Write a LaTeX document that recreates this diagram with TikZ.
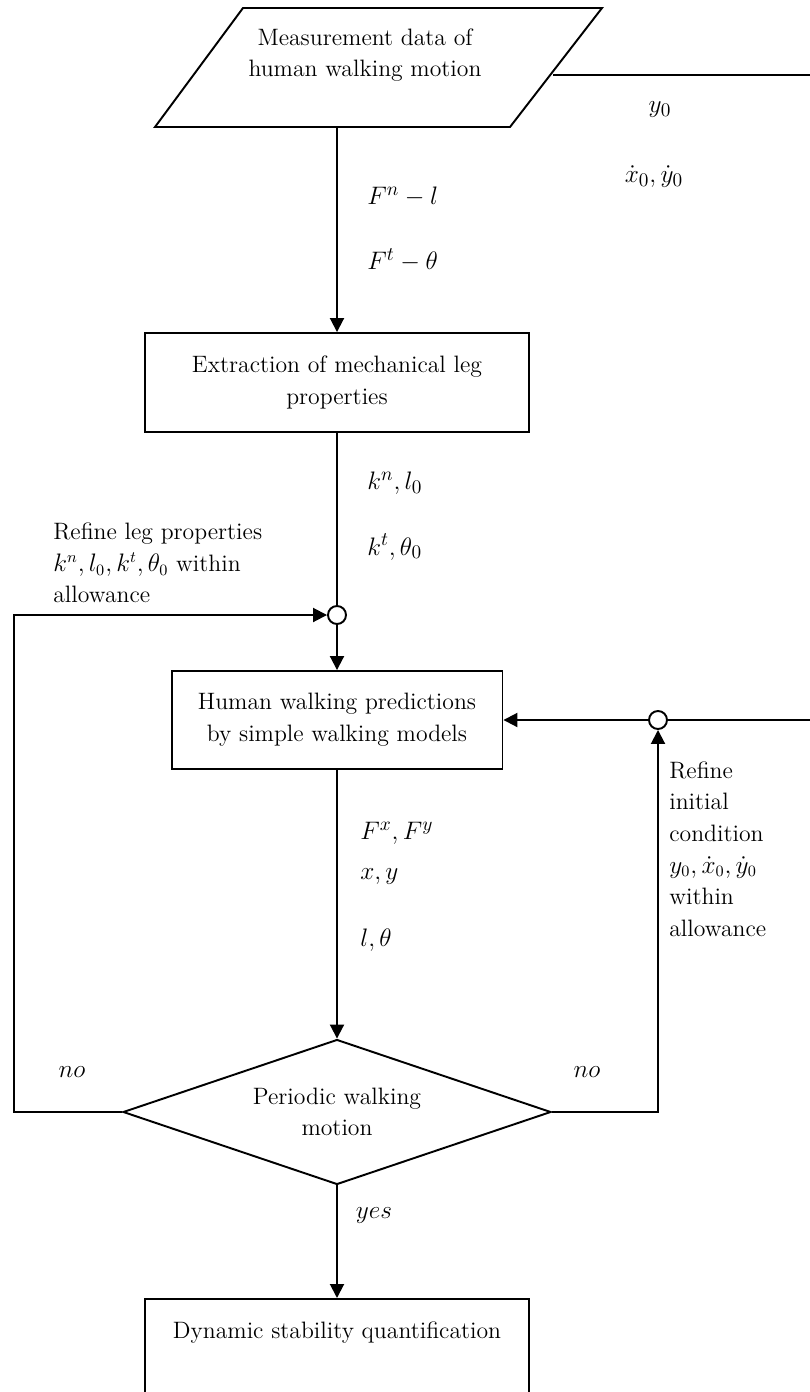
\documentclass[tikz,border=0pt]{standalone}
\usepackage{amsmath}
\usepackage{amssymb}
\usetikzlibrary{arrows.meta, shapes.geometric, positioning}

\tikzset{
  box/.style={draw, line width=1.1pt, align=center, inner sep=0pt},
  junction/.style={draw, circle, line width=1.1pt, fill=white, minimum size=0.36cm, inner sep=0pt},
  flow/.style={line width=1.1pt, -{Triangle[length=0.28cm, width=0.28cm]}},
  wire/.style={line width=1.1pt},
  lbl/.style={inner sep=0pt, anchor=west},
  sig/.style={inner sep=0pt, font=\fontsize{15.5}{18}\selectfont},
}

\begin{document}
\begin{tikzpicture}[x=0.02cm, y=-0.02cm, font=\fontsize{13.5}{18}\selectfont]
  \useasboundingbox (0,0) rectangle (810,1392);
  \clip (0,0) rectangle (810,1392);

  % input data
  \draw[wire] (243,8) -- (602,8) -- (510,127) -- (155,127) -- cycle;
  \node[align=center] (data) at (365,55) {Measurement data of\\human walking motion};
  \coordinate (dataout) at (337,127);
  \coordinate (dataright) at (553,75);
  \coordinate (edgetop) at (810,75);

  \node[box, minimum width=7.68cm, minimum height=1.98cm] (extract) at (337,382.5) {Extraction of mechanical leg\\properties};
  \node[junction] (jleft) at (337,615) {};
  \node[box, minimum width=6.62cm, minimum height=1.96cm] (predict) at (337,720) {Human walking predictions\\by simple walking models};
  \node[junction] (jright) at (658,720) {};
  \coordinate (edgemid) at (810,720);
  \node[diamond, draw, line width=1.1pt, aspect=2.95, minimum width=8.56cm, minimum height=2.9cm, inner sep=0pt, align=center] (periodic) at (337,1112) {Periodic walking\\motion};
  \coordinate (leftturn) at (14,1112);
  \coordinate (leftup) at (14,615);
  \coordinate (rightturn) at (658,1112);
  \node[box, minimum width=7.68cm, minimum height=3cm, anchor=north] (quant) at (337,1298) {};
  \node (quanttext) at (337,1333) {Dynamic stability quantification};

  % main flow
  \draw[flow] (dataout) -- (extract);
  \draw[wire] (dataright) -- (edgetop);
  \draw[wire] (extract) -- (jleft);
  \draw[flow] (jleft) -- (predict);
  \draw[flow] (predict) -- (periodic);
  \draw[flow] (periodic) -- (quant);

  % refinement loops
  \draw[flow] (periodic.west) -- (leftturn) -- (leftup) -- (jleft);
  \draw[flow] (periodic.east) -- (rightturn) -- (jright);
  \draw[wire] (edgemid) -- (jright);
  \draw[flow] (jright) -- (predict);

  % signals
  \node[sig, lbl] (fnl) at (367,197) {$F^n - l$};
  \node[sig, lbl] (ftt) at (367,260) {$F^t - \theta$};
  \node[sig] (yinit) at (660,110) {$y_0$};
  \node[sig] (vinit) at (654,177) {$\dot{x}_0, \dot{y}_0$};
  \node[sig, lbl] (knl) at (367,483) {$k^n, l_0$};
  \node[sig, lbl] (ktt) at (367,547) {$k^t, \theta_0$};
  \node[lbl, align=left] (refleg) at (53,563) {Refine leg properties\\$k^n, l_0, k^t, \theta_0$ within\\allowance};
  \node[sig, lbl] (fxy) at (360,833) {$F^x, F^y$};
  \node[sig, lbl] (xy) at (360,877) {$x, y$};
  \node[sig, lbl] (lth) at (360,940) {$l, \theta$};
  \node[lbl, align=left] (refinit) at (669,849) {Refine\\initial\\condition\\$y_0, \dot{x}_0, \dot{y}_0$\\within\\allowance};
  \node[sig] (noleft) at (72,1072) {$no$};
  \node[sig] (noright) at (587,1072) {$no$};
  \node[sig] (yes) at (374,1215) {$yes$};
\end{tikzpicture}
\end{document}
